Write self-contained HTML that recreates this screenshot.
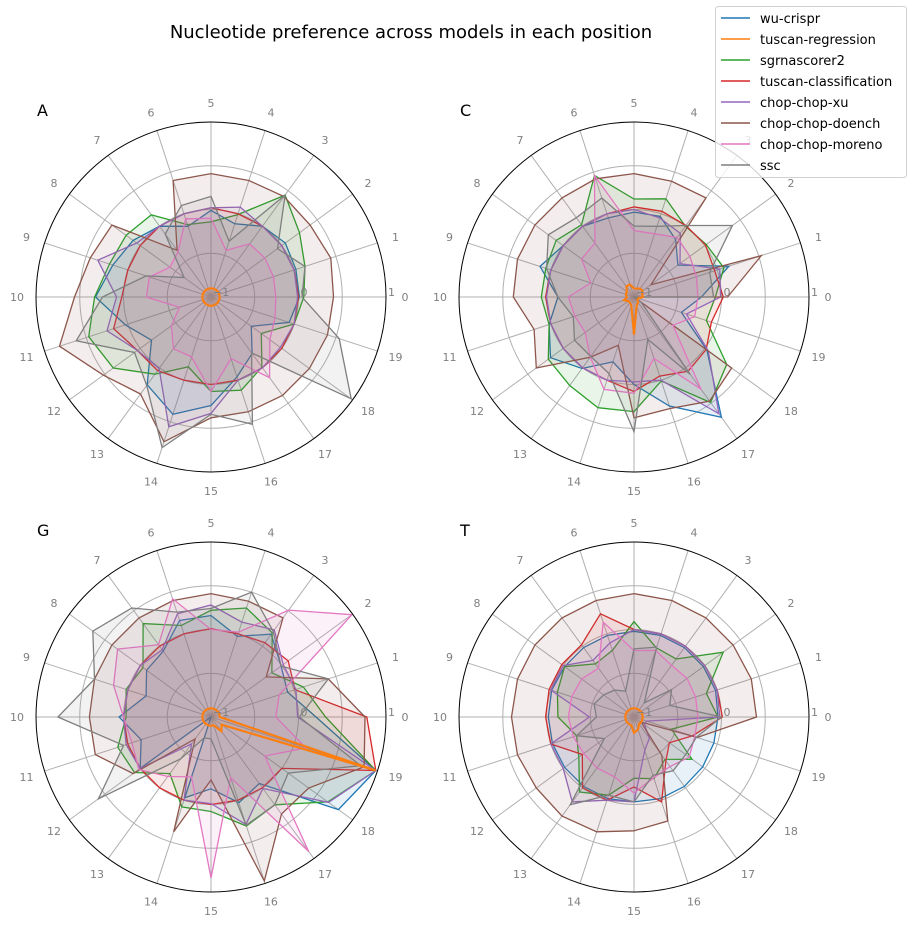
<!DOCTYPE html>
<html><head><meta charset="utf-8"><style>
body{margin:0;background:#fff;width:913px;height:927px;overflow:hidden}
svg{display:block;font-family:"DejaVu Sans","Liberation Sans",sans-serif}
</style></head><body>
<svg id="chart" width="913" height="927" viewBox="0 0 913 927">
<text x="411" y="38" font-size="18" text-anchor="middle" fill="#000">Nucleotide preference across models in each position</text>
</svg>
<script>
const seriesNames = ["wu-crispr","tuscan-regression","sgrnascorer2","tuscan-classification","chop-chop-xu","chop-chop-doench","chop-chop-moreno","ssc"];
const seriesColors = ["#1f77b4","#ff7f0e","#2ca02c","#d62728","#9467bd","#8c564b","#e377c2","#7f7f7f"];
const positions = [0,1,2,3,4,5,6,7,8,9,10,11,12,13,14,15,16,17,18,19];
const radialTicks = [-1,0,1];
const panelTitles = ["A","C","G","T"];

const panelA = [
 [.01,.02,.05,0,-.12,-.01,-.15,0,.10,.18,.32,.03,-.16,.24,.41,.24,-.04,-.2,-.43,-.06],
 [-.9,-.9,-.9,-.9,-.9,-.9,-.9,-.9,-.9,-.9,-.9,-.9,-.9,-.9,-.9,-.9,-.9,-.9,-.9,-.9],
 [.06,.13,.25,.44,-.01,-.14,-.13,.16,.20,.22,.33,.47,.38,.09,-.16,.08,.12,-.01,-.29,0],
 [0,0,0,0,0,.02,0,0,0,0,.02,.17,.04,.04,0,0,0,0,0,0],
 [-.01,0,0,0,.08,.02,0,0,.05,.36,.08,.25,.04,.01,.56,.33,0,0,-.02,0],
 [.40,.44,.40,.42,.40,.41,.40,-.34,.40,.45,.56,.82,.52,.37,.74,.38,.38,.39,.39,.40],
 [-.26,-.25,-.24,-.25,-.44,-.1,-.06,-.36,-.42,-.26,-.26,-.62,-.44,-.27,-.28,.08,-.26,.14,-.17,-.23],
 [.04,.13,-.06,.44,-.33,.15,.10,-.11,-.62,-.22,.24,.62,.08,.25,.81,.34,.53,-.21,.98,.54]
];
const panelC = [
 [-.23,.14,-.38,-.19,-.03,-.03,-.05,0,0,.13,-.13,.02,.18,.01,-.22,0,.31,.70,.03,-.43],
 [-.9,-.9,-.88,-.88,-.9,-.9,-.85,-.85,-.9,-.9,-.92,-.88,-.92,-.92,-.9,-.57,-.9,-.92,-.95,-.95],
 [-.07,.08,.02,0,.18,.12,.46,.02,.1,.06,.06,.02,.21,.25,.33,.31,.01,.49,.31,-.13],
 [.02,-.03,.01,.01,.03,.03,0,0,0,0,.01,0,0,0,0,.08,-.05,.05,.02,-.07],
 [-.01,.03,-.35,-.1,-.05,0,0,0,0,0,0,0,0,0,0,-.03,0,.65,.05,-.37],
 [.07,.53,-.76,.40,.39,.41,.42,.4,.40,.4,.38,.2,.38,-.15,-.42,.38,.34,.47,.38,-1],
 [-.27,-.25,-.21,-.16,-.24,-.24,.46,-.24,-.26,-.48,-.25,-.29,-.31,-.15,.11,.1,-.26,.3,-.45,-.27],
 [-.09,-.09,.39,.01,-.15,-.19,.19,.12,.21,.05,-.13,-.27,-.16,-.16,-.08,.54,-.49,.09,-.9,-1]
];
const panelG = [
 [.2,-.08,-.01,.17,-.03,.16,.16,-.07,-.09,-.22,.05,-.16,0,-1,-.03,-.18,.03,-.06,.8,.98],
 [-.9,-.9,-.9,-.9,-.9,-.9,-.9,-.9,-.9,-.9,-.9,-.9,-.9,-.9,-.9,-.9,-.9,-.8,-.85,.98],
 [.31,.11,-.14,.19,.31,.22,.1,.32,-.04,.02,-.03,.12,.08,-.2,.08,.08,.31,.24,.65,.98],
 [.78,.01,.09,.05,0,.01,0,0,0,0,0,0,0,0,0,0,0,0,0,.98],
 [-.01,.02,.02,.23,.14,.28,.24,-.05,0,0,0,.02,0,-.62,0,-.01,.29,.01,.66,.98],
 [.76,.41,-.22,.40,.39,.41,.40,.40,.40,.40,.39,.39,.10,-.69,.38,-.28,.97,.37,.38,.84],
 [-.26,-.18,.99,.51,.02,0,.42,.02,.32,.17,0,-.05,.02,-.16,-.28,.84,-.27,.9,-.24,.14],
 [.01,.41,-.01,.21,.50,.24,.26,.54,.67,.40,.75,.05,.59,-.41,-.75,-.75,.30,.24,.09,.8]
];
const panelT = [
 [-.04,-.02,-.02,-.02,-.02,-.02,-.02,-.02,-.02,-.01,-.02,-.02,-.02,-.02,-.02,-.03,-.02,-.02,-.03,-.04],
 [-.9,-.9,-.9,-.9,-.9,-.9,-.9,-.9,-.9,-.9,-.9,-.9,-.9,-.9,-.9,-.82,-.85,-.9,-.9,-.9],
 [-.04,-.13,.26,-.18,-.17,.09,-.2,-.25,-.02,-.08,-.13,-.31,-.22,.06,-.06,-.3,-.26,-.4,-.18,-.55],
 [.01,0,0,0,0,0,.24,.02,.02,.02,.01,0,-.27,0,0,-.2,.02,-.38,-.5,-.3],
 [-.02,0,0,0,0,0,-.11,-.2,0,0,-.49,0,0,.2,0,-.03,-.6,-.7,-.85,-.85],
 [.40,.41,.40,.40,.40,.41,.40,.40,.40,.40,.40,.40,.38,.40,.38,.30,.25,-.46,-.9,-.24],
 [-.27,-.26,-.25,-.27,-.2,-.24,.14,-.31,-.26,-.25,-.25,-.27,-.29,-.28,-.28,-.13,-.27,-.3,-.22,-.27],
 [0,-.57,-.47,-.8,-.16,-.22,-.69,-.62,-.57,-.52,-.57,-.31,-.58,.24,-.06,-.03,-.3,-.24,-.27,-.25]
];
const panelData = [panelA, panelC, panelG, panelT];

const NS = "http://www.w3.org/2000/svg";
const svg = document.getElementById("chart");
const R = 175, rMin = -1, rMax = 1;
const centers = [[211,297],[634,297],[211,717],[634,717]];
function rScale(v){ return (v - rMin) / (rMax - rMin) * R; }
function angle(i){ return i / positions.length * 2 * Math.PI; }
function pt(cx, cy, v, i){ const r = rScale(v), a = angle(i); return [cx + r*Math.cos(a), cy - r*Math.sin(a)]; }
function mk(tag, attrs, parent){ const e = document.createElementNS(NS, tag); for (const k in attrs) e.setAttribute(k, attrs[k]); (parent||svg).appendChild(e); return e; }
function ptsOf(vals, cx, cy){ return vals.map((v, i) => pt(cx, cy, v, i).map(n => n.toFixed(1)).join(",")).join(" "); }

panelData.forEach((data, p) => {
  const [cx, cy] = centers[p];
  const g = mk("g", {});
  
  
  [-0.5, 0, 0.5].forEach(v => {
    const c = mk("circle", {cx, cy, r: rScale(v), fill: "none", stroke: "#b0b0b0", "stroke-width": 1}, g);
    
    
  });
  positions.forEach((pos, i) => {
    const [x, y] = pt(cx, cy, rMax, i);
    const l = mk("line", {x1: cx, y1: cy, x2: x, y2: y, stroke: "#b0b0b0", "stroke-width": 1}, g);
    
    
    const a = angle(i), lr = R + 19;
    const t = mk("text", {x: cx + lr*Math.cos(a), y: cy - lr*Math.sin(a) + 4, "font-size": 11, fill: "#808080", "text-anchor": "middle"}, g);
    t.textContent = pos;
    
    
  });
  data.forEach((vals, s) => {
    const poly = mk("polygon", {points: ptsOf(vals, cx, cy), fill: seriesColors[s], "fill-opacity": 0.1, stroke: seriesColors[s], "stroke-width": s === 1 ? 2 : 1.3, "stroke-linejoin": "miter"}, g);
    
    
  });
  const top = mk("polygon", {points: ptsOf(data[1], cx, cy), fill: "none", stroke: seriesColors[1], "stroke-width": 2}, g);
  
  
  const oc = mk("circle", {cx, cy, r: R, fill: "none", stroke: "#000", "stroke-width": 1}, g);
  
  
  radialTicks.forEach(v => {
    const t = mk("text", {x: cx + rScale(v) + 2, y: cy - 1, "font-size": 11, fill: "#808080"}, g);
    t.textContent = v === -1 ? "\u22121" : v;
    
    
  });
  const tt = mk("text", {x: cx - 174, y: cy - 181, "font-size": 16, fill: "#000"}, g);
  tt.textContent = panelTitles[p];
  
  
});

const lg = mk("g", {});


const box = mk("rect", {x: 715.5, y: 6.5, width: 191, height: 171, rx: 3, fill: "#fff", "fill-opacity": 0.8, stroke: "#d0d0d0"}, lg);


seriesNames.forEach((n, s) => {
  const y = 18 + s * 21;
  const l = mk("line", {x1: 721, y1: y, x2: 750, y2: y, stroke: seriesColors[s], "stroke-width": 1.5}, lg);
  
  
  const t = mk("text", {x: 760, y: y + 5, "font-size": 13, fill: "#000"}, lg);
  t.textContent = n;
  
  
});
</script>
</body></html>
